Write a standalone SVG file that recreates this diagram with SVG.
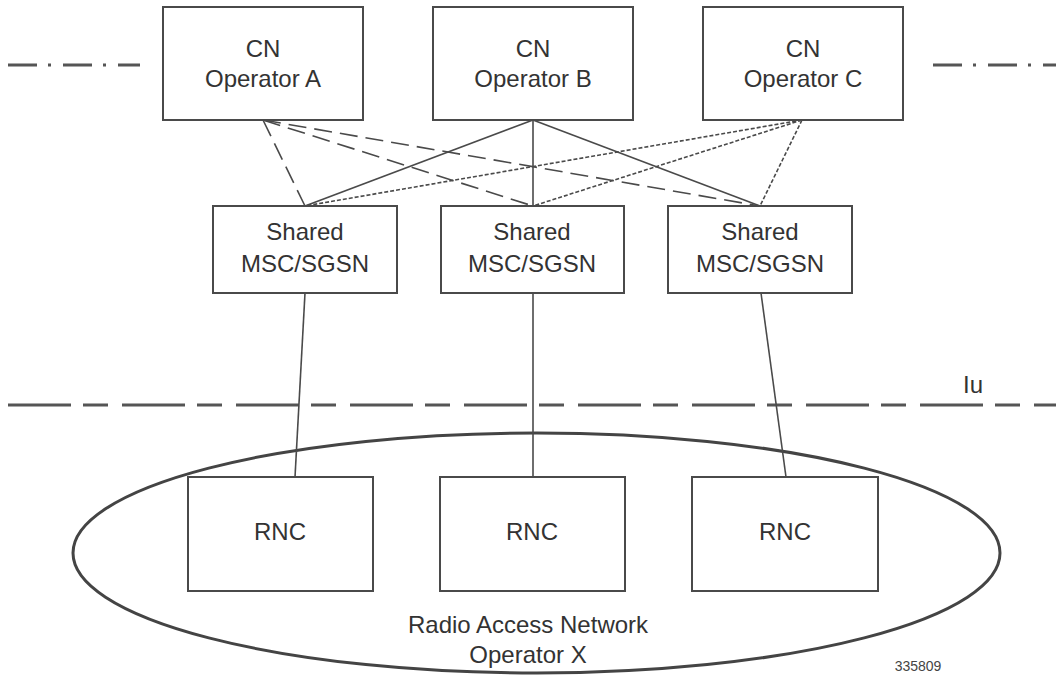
<svg xmlns="http://www.w3.org/2000/svg" width="1056" height="677" viewBox="0 0 1056 677">
<style>
.box{fill:#fff;stroke:#4a4a4a;stroke-width:2}
.t{font-family:"Liberation Sans",Arial,sans-serif;font-size:24px;fill:#333;text-anchor:middle}
.c{stroke:#4a4a4a;stroke-width:1.6;fill:none}
.da{stroke-dasharray:18 8}
.dt{stroke-dasharray:4 2}
.bnd{stroke:#555;stroke-width:3;fill:none}
</style>
<rect width="1056" height="677" fill="#fff"/>
<g id="boundaries">
<line class="bnd" x1="8" y1="65" x2="140" y2="65" stroke-dasharray="29 11 3 12"/>
<line class="bnd" x1="933" y1="65" x2="1056" y2="65" stroke-dasharray="29 11 3 12"/>
<line class="bnd" x1="8" y1="405" x2="1056" y2="405" stroke-dasharray="63 12 25 14"/>
<text class="t" x="973" y="393">Iu</text>
</g>
<g id="ran">
<ellipse cx="536.5" cy="553" rx="463.5" ry="120" fill="none" stroke="#444" stroke-width="3"/>
<text class="t" x="528" y="633">Radio Access Network</text>
<text class="t" x="528" y="663">Operator X</text>
</g>
<g id="connectors">
<line class="c da" x1="263" y1="120" x2="305" y2="206"/>
<line class="c da" x1="263" y1="120" x2="533" y2="206"/>
<line class="c da" x1="263" y1="120" x2="760" y2="206"/>
<line class="c" x1="533" y1="120" x2="305" y2="206"/>
<line class="c" x1="533" y1="120" x2="533" y2="206"/>
<line class="c" x1="533" y1="120" x2="760" y2="206"/>
<line class="c dt" x1="802" y1="120" x2="305" y2="206"/>
<line class="c dt" x1="802" y1="120" x2="533" y2="206"/>
<line class="c dt" x1="802" y1="120" x2="760" y2="206"/>
<line class="c" x1="305" y1="293" x2="295" y2="477"/>
<line class="c" x1="533" y1="293" x2="533" y2="477"/>
<line class="c" x1="761" y1="293" x2="786" y2="477"/>
</g>
<g id="cn-a">
<rect class="box" x="163" y="7" width="200" height="113"/>
<text class="t" x="263" y="57">CN</text>
<text class="t" x="263" y="87">Operator A</text>
</g>
<g id="cn-b">
<rect class="box" x="433" y="7" width="200" height="113"/>
<text class="t" x="533" y="57">CN</text>
<text class="t" x="533" y="87">Operator B</text>
</g>
<g id="cn-c">
<rect class="box" x="703" y="7" width="200" height="113"/>
<text class="t" x="803" y="57">CN</text>
<text class="t" x="803" y="87">Operator C</text>
</g>
<g id="msc-1">
<rect class="box" x="213" y="206" width="184" height="87"/>
<text class="t" x="305" y="240">Shared</text>
<text class="t" x="305" y="272">MSC/SGSN</text>
</g>
<g id="msc-2">
<rect class="box" x="441" y="206" width="183" height="87"/>
<text class="t" x="532" y="240">Shared</text>
<text class="t" x="532" y="272">MSC/SGSN</text>
</g>
<g id="msc-3">
<rect class="box" x="668" y="206" width="184" height="87"/>
<text class="t" x="760" y="240">Shared</text>
<text class="t" x="760" y="272">MSC/SGSN</text>
</g>
<g id="rnc-1">
<rect class="box" x="188" y="477" width="185" height="114"/>
<text class="t" x="280" y="540">RNC</text>
</g>
<g id="rnc-2">
<rect class="box" x="440" y="477" width="185" height="114"/>
<text class="t" x="532" y="540">RNC</text>
</g>
<g id="rnc-3">
<rect class="box" x="692" y="477" width="186" height="114"/>
<text class="t" x="785" y="540">RNC</text>
</g>
<text x="918" y="671" font-family="'Liberation Sans',Arial,sans-serif" font-size="14" fill="#444" text-anchor="middle">335809</text>
</svg>
